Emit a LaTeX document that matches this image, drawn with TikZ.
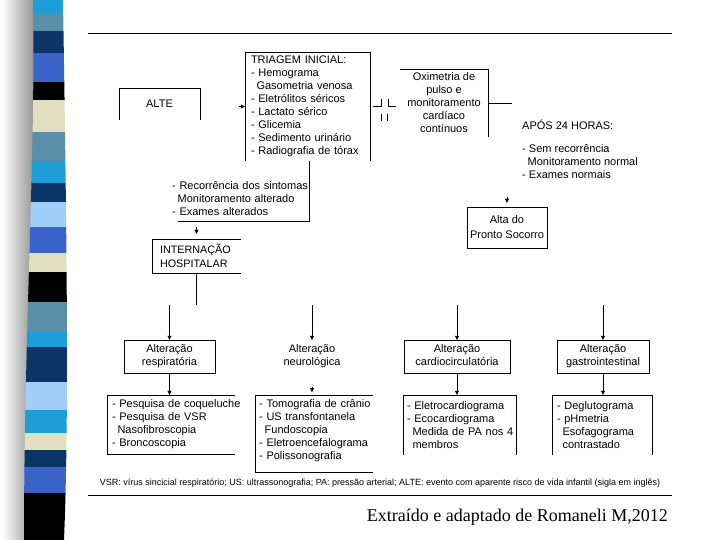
\documentclass[tikz,border=0pt]{standalone}
\usepackage{fontspec}
\setmainfont{Liberation Sans}
\newfontfamily\fonteserif{Liberation Serif}
\usepackage{xcolor}
\usetikzlibrary{arrows.meta, positioning}

\definecolor{faixaciano}{RGB}{30,158,214}
\definecolor{faixaaco}{RGB}{90,143,168}
\definecolor{faixamarinho}{RGB}{11,53,102}
\definecolor{faixaazul}{RGB}{58,99,200}
\definecolor{faixabege}{RGB}{224,224,192}
\definecolor{faixaclaro}{RGB}{160,206,248}

\begin{document}
\begin{tikzpicture}[x=1pt, y=-1pt,
        caixa/.style={inner sep=0pt, font=\fontsize{11}{13}\selectfont},
        lista/.style={caixa, align=left, inner xsep=#1},
        alteracao/.style={caixa, draw, align=center, minimum height=33pt},
        seta/.style={-{Triangle[length=4pt, width=4pt]}}
    ]
    \useasboundingbox (0,0) rectangle (720,540);
    \fill[white] (0,0) rectangle (720,540);

    % faixa lateral
    \shade[left color=white, right color=black!45] (2,0) rectangle (36,540);
    \begin{scope}
        \clip (33,0) .. controls (36,150) and (24,330) .. (24,540) -- (64,540) .. controls (69,420) and (67,250) .. (63,0) -- cycle;
        \foreach \ini/\fim/\cor in {0/13/faixaciano, 13/31/faixaaco, 31/53/faixamarinho, 53/82/faixaazul, 82/100/black, 100/132/faixabege, 132/161/faixaaco, 161/183/faixaciano, 183/202/faixamarinho, 202/227/faixaclaro, 227/253/faixaazul, 253/272/faixabege, 272/302/black, 302/332/faixaaco, 332/347/faixaciano, 347/382/faixamarinho, 382/410/faixaclaro, 410/433/faixaciano, 433/450/faixabege, 450/467/faixamarinho, 467/493/faixaazul, 493/540/black}
            \fill[\cor] (0,\ini) rectangle (80,\fim);
    \end{scope}

    \draw[line width=0.8pt] (88,33) -- (672,33);
    \draw[line width=0.8pt] (88,495) -- (672,495);

    \node[caixa, minimum width=80pt, minimum height=32pt] (alte) at (159.5,104) {ALTE};
    \node[lista=6pt, text width=113pt, minimum width=125pt, minimum height=109pt] (triagem) at (307.5,106.5)
        {TRIAGEM INICIAL:\\- Hemograma\\\hspace*{5.5pt}Gasometria venosa\\- Eletrólitos séricos\\- Lactato sérico\\- Glicemia\\- Sedimento urinário\\\mbox{- Radiografia de tórax}};
    \node[caixa, align=center, minimum width=88pt, minimum height=68pt] (oxi) at (444,103)
        {Oximetria de\\pulso e\\monitoramento\\cardíaco\\contínuos};
    \coordinate (oxifim) at (512,103);
    \node[lista=0pt, anchor=north west] (apos) at (522,120)
        {APÓS 24 HORAS:\\[10pt]- Sem recorrência\\\hspace*{5.5pt}Monitoramento normal\\- Exames normais};
    \node[lista=0pt, text width=137pt, minimum height=44pt, anchor=south west] (recorr) at (172,221)
        {\mbox{- Recorrência dos sintomas}\\\hspace*{5.5pt}Monitoramento alterado\\- Exames alterados};
    \node[lista=8pt, text width=73pt, minimum width=89pt, minimum height=34pt, font=\fontsize{10.8}{14}\selectfont] (intern) at (196.5,256)
        {INTERNAÇÃO\\HOSPITALAR};
    \node[caixa, draw, align=center, minimum width=80pt, minimum height=41pt] (alta) at (507,227.5)
        {Alta do\\[2pt]Pronto Socorro};
    \coordinate (divisao) at (196.5,305);

    \node[alteracao, minimum width=91pt] (resp) at (169.5,356.5) {Alteração\\respiratória};
    \node[alteracao, draw=none, minimum width=88pt] (neuro) at (312,356.5) {Alteração\\neurológica};
    \node[alteracao, minimum width=106pt] (cardio) at (457,356.5) {Alteração\\cardiocirculatória\vphantom{p}};
    \node[alteracao, minimum width=92pt] (gastro) at (603,356.5) {Alteração\\gastrointestinal};

    \node[lista=5pt, text width=118pt, minimum width=128pt, minimum height=59pt] (dresp) at (171,424.5)
        {\mbox{- Pesquisa de coqueluche}\\- Pesquisa de VSR\\\hspace*{5.5pt}Nasofibroscopia\\- Broncoscopia};
    \node[lista=4pt, inner ysep=4.5pt, text width=110pt, anchor=north west] (dneuro) at (255,395)
        {\mbox{- Tomografia de crânio}\\- US transfontanela\\\hspace*{5.5pt}Fundoscopia\\\mbox{- Eletroencefalograma}\\- Polissonografia};
    \coordinate (dneurobase) at (255,472);
    \node[lista=4pt, text width=105pt, minimum width=113pt, minimum height=60pt] (dcardio) at (459.5,425)
        {\mbox{- Eletrocardiograma}\\- Ecocardiograma\\\hspace*{5.5pt}\mbox{Medida de PA nos 4}\\\hspace*{5.5pt}membros};
    \node[lista=5pt, text width=90pt, minimum width=100pt, minimum height=60pt] (dgastro) at (602,425)
        {- Deglutograma\\- pHmetria\\\hspace*{5.5pt}Esofagograma\\\hspace*{5.5pt}contrastado};

    \node[font=\fontsize{9}{10}\selectfont, inner sep=0pt] (nota) at (380,483)
        {VSR: vírus sincicial respiratório; US: ultrassonografia; PA: pressão arterial; ALTE: evento com aparente risco de vida infantil (sigla em inglês)};
    \node[font=\fonteserif\fontsize{18}{20}\selectfont, inner sep=0pt, anchor=east] (fonte) at (668,517)
        {Extraído e adaptado de Romaneli M,2012};

    % contornos que aparecem
    \draw (alte.south west) |- (alte.north east) -- (alte.south east);
    \draw (triagem.south west) |- (triagem.north east) -- (triagem.south east);
    \draw (oxi.north west) -- (oxi.north east) -- (oxi.south east);
    \draw (intern.north east) -| (intern.south west) -- (intern.south east);
    \draw (dresp.north east) -| (dresp.south west) -- (dresp.south east);
    \draw (dneuro.north east) -- (dneuro.north west) -- (dneurobase) -- (dneurobase -| dneuro.east);
    \draw (dcardio.south west) |- (dcardio.north east) -- (dcardio.south east);
    \draw (dgastro.south west) |- (dgastro.north east) -- (dgastro.south east);
    \draw (373,106) -- (381,106) -- (381,99) (388,99) -- (388,106) -- (396,106) (381,114) -- (381,121) (387,114) -- (387,121);

    % ligações
    \draw[seta] ([xshift=-6pt]triagem.west) -- (triagem.west);
    \draw (oxi.east) -- (oxifim);
    \draw (triagem.south -| recorr.east) -- (recorr.south east) -- ([xshift=6pt]recorr.south west);
    \draw[seta] ([yshift=12pt]intern.north) -- ([yshift=5pt]intern.north);
    \draw[seta] ([yshift=10pt]alta.north) -- ([yshift=4pt]alta.north);
    \draw (intern.south) -- (divisao);
    \foreach \alt in {resp, neuro, cardio, gastro}
        \draw[seta] (\alt.north |- divisao) -- (\alt.north);
    \draw[seta] (resp.south) -- (resp.south |- dresp.north);
    \coordinate (neurofim) at (neuro.south |- dneuro.north);
    \draw[seta] ([yshift=8pt]neurofim) -- ([yshift=3pt]neurofim);
    \draw[seta] (cardio.south) -- (cardio.south |- dcardio.north);
    \draw[seta] (gastro.south) -- (gastro.south |- dgastro.north);
\end{tikzpicture}
\end{document}
